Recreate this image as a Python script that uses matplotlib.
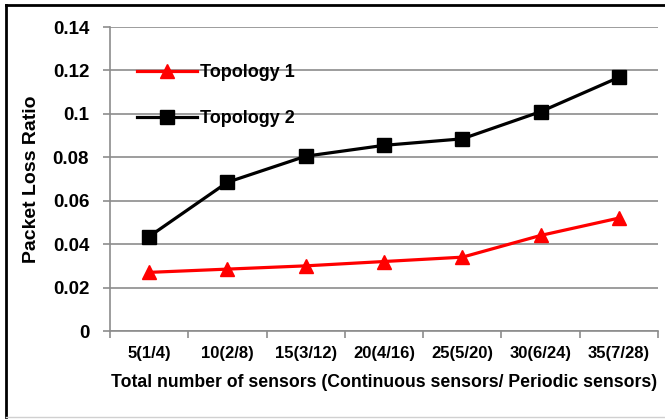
import matplotlib.pyplot as plt
from matplotlib.lines import Line2D

categories = ['5(1/4)', '10(2/8)', '15(3/12)', '20(4/16)', '25(5/20)', '30(6/24)', '35(7/28)']
topology1 = [0.027, 0.0285, 0.030, 0.032, 0.034, 0.044, 0.052]
topology2 = [0.0435, 0.0685, 0.0805, 0.0855, 0.0885, 0.101, 0.1168]
yticks = [0, 0.02, 0.04, 0.06, 0.08, 0.1, 0.12, 0.14]
ytick_labels = ['0', '0.02', '0.04', '0.06', '0.08', '0.1', '0.12', '0.14']

plt.rcParams['font.family'] = ['Liberation Sans', 'DejaVu Sans']
plt.rcParams['font.weight'] = 'bold'

fig = plt.figure(figsize=(6.65, 4.19), dpi=100)
ax = fig.add_axes([110/665, 1-331/419, 548/665, 304/419])

x = list(range(len(categories)))
ax.plot(x, topology1, color='#ff0000', lw=2.3, marker='^', ms=10, label='Topology 1')
ax.plot(x, topology2, color='black', lw=2.3, marker='s', ms=9.5, label='Topology 2')

ax.set_xlim(-0.5, len(categories) - 0.5)
ax.set_ylim(0, 0.14)
ax.set_yticks(yticks)
ax.set_yticklabels(ytick_labels, fontsize=13.5, fontweight='bold')
ax.yaxis.grid(True, color='#8c8c8c', lw=1.2)
ax.set_axisbelow(True)

# Excel-style: ticks at category boundaries, labels at centers
ax.set_xticks([i - 0.5 for i in range(len(categories) + 1)])
ax.set_xticklabels([])
ax.set_xticks(x, minor=True)
ax.set_xticklabels(categories, minor=True, fontsize=12, fontweight='bold')
ax.tick_params(axis='x', which='minor', length=0, pad=11)
ax.tick_params(axis='x', which='major', length=5, color='#8c8c8c', width=1.2)
ax.tick_params(axis='y', length=5, color='#8c8c8c', width=1.2, pad=10)

for s in ['top', 'right']:
    ax.spines[s].set_visible(False)
for s in ['left', 'bottom']:
    ax.spines[s].set_color('#8c8c8c')
    ax.spines[s].set_linewidth(1.2)

ax.set_ylabel('Packet Loss Ratio', fontsize=14, fontweight='bold', labelpad=9)
ax.set_xlabel('Total number of sensors (Continuous sensors/ Periodic sensors)',
              fontsize=12.7, fontweight='bold', labelpad=9)

leg = ax.legend(loc='upper left', bbox_to_anchor=(0.05, 0.877), frameon=False,
                fontsize=13, handlelength=3.3, handletextpad=0.15, labelspacing=1.6,
                borderpad=0, borderaxespad=0)
for t in leg.get_texts():
    t.set_fontweight('bold')

# figure border
fig.add_artist(Line2D([6/665, 6/665], [1-5/419, 1-417/419], color='black', lw=2))
fig.add_artist(Line2D([6/665, 1], [1-5/419, 1-5/419], color='black', lw=2))
fig.add_artist(Line2D([6/665, 1], [1-417/419, 1-417/419], color='#d0d0d0', lw=1))

fig.savefig('out.png', dpi=100)
